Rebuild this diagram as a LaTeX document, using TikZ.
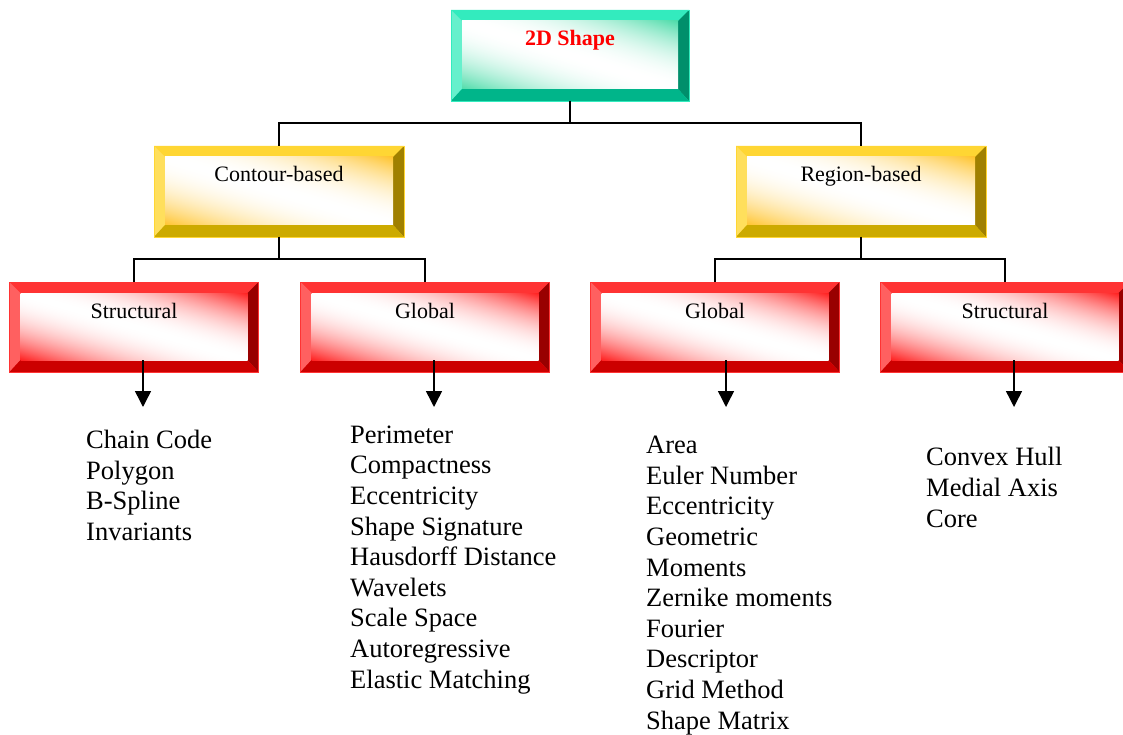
\documentclass[tikz,border=0pt]{standalone}
\usepackage{fontspec}
\setmainfont{Liberation Serif}
\usetikzlibrary{arrows.meta}
\definecolor{tealtop}{HTML}{33EBBE}
\definecolor{tealleft}{HTML}{66F0CC}
\definecolor{tealright}{HTML}{008F6B}
\definecolor{tealbot}{HTML}{00B58A}
\definecolor{tealface}{HTML}{4FDCAA}
\definecolor{goldtop}{HTML}{FFD633}
\definecolor{goldleft}{HTML}{FFDF5C}
\definecolor{goldright}{HTML}{A08000}
\definecolor{goldbot}{HTML}{CCAA00}
\definecolor{goldface}{HTML}{FFC42E}
\definecolor{redtop}{HTML}{FF3333}
\definecolor{redleft}{HTML}{FF6060}
\definecolor{redright}{HTML}{990000}
\definecolor{redbot}{HTML}{CC0000}
\definecolor{redface}{HTML}{FF2020}
\colorlet{facecol}{red}
% white along the diagonal, colour in the upper right and lower left corners
\pgfdeclarefunctionalshading[facecol]{bevelface}{\pgfpoint{0bp}{0bp}}{\pgfpoint{100bp}{100bp}}
  {\pgfshadecolortorgb{facecol}{\fcol}}
  {add 100 sub abs 50 div dup mul
   dup 1 \fcolred\space sub mul 1 exch sub exch
   dup 1 \fcolgreen\space sub mul 1 exch sub exch
   1 \fcolblue\space sub mul 1 exch sub}
\tikzset{
  bevel/.style n args={5}{rectangle, inner sep=0pt, outer sep=0pt,
    draw=#1, line width=0.6pt, fill=#1,
    path picture={
      \coordinate (pnw) at (path picture bounding box.north west);
      \coordinate (pne) at (path picture bounding box.north east);
      \coordinate (psw) at (path picture bounding box.south west);
      \coordinate (pse) at (path picture bounding box.south east);
      \coordinate (qnw) at ([shift={(11pt,-11pt)}]pnw);
      \coordinate (qne) at ([shift={(-11pt,-11pt)}]pne);
      \coordinate (qsw) at ([shift={(11pt,12pt)}]psw);
      \coordinate (qse) at ([shift={(-11pt,12pt)}]pse);
      \fill[#1] (pnw) -- (pne) -- (qne) -- (qnw) -- cycle;
      \fill[#2] (pnw) -- (qnw) -- (qsw) -- (psw) -- cycle;
      \fill[#3] (pne) -- (pse) -- (qse) -- (qne) -- cycle;
      \fill[#4] (psw) -- (qsw) -- (qse) -- (pse) -- cycle;
      \colorlet{facecol}{#5}
      \shade[shading=bevelface] (qnw) rectangle (qse);
    }},
  tealbox/.style={bevel={tealtop}{tealleft}{tealright}{tealbot}{tealface},
    minimum width=238pt, minimum height=91pt},
  goldbox/.style={bevel={goldtop}{goldleft}{goldright}{goldbot}{goldface},
    minimum width=250pt, minimum height=91pt},
  redbox/.style={bevel={redtop}{redleft}{redright}{redbot}{redface},
    minimum width=249pt, minimum height=90pt},
  boxtext/.style={font=\fontsize{22}{26}\selectfont, anchor=base, yshift=-36pt},
  title/.style={label={[boxtext]north:#1}},
  % anchor sits on the last line
  listtext/.style={font=\fontsize{26.5}{30.6}\selectfont, align=left,
    anchor=base west, inner sep=0pt},
  link/.style={line width=1.5pt},
  down/.style={line width=1.5pt, -{Triangle[width=16pt,length=16pt]}}
}
\begin{document}
\begin{tikzpicture}[x=1pt,y=-1pt]
  \useasboundingbox (0,0) rectangle (1123,735);
  \node[tealbox, label={[boxtext, font=\fontsize{22}{26}\selectfont\bfseries, text=red]north:2D Shape}] (shape) at (570,55.5) {};
  \node[goldbox, title=Contour-based] (cb) at (279,191.5) {};
  \node[goldbox, title=Region-based] (rb) at (861,191.5) {};
  \node[redbox, title=Structural] (cs) at (134,327) {};
  \node[redbox, title=Global] (cg) at (425,327) {};
  \node[redbox, title=Global] (rg) at (715,327) {};
  \node[redbox, title=Structural] (rs) at (1005,327) {};
  \draw[link] (shape.south) -- ++(0,22) -| (cb.north);
  \draw[link] (shape.south) -- ++(0,22) -| (rb.north);
  \draw[link] (cb.south) -- ++(0,22) -| (cs.north);
  \draw[link] (cb.south) -- ++(0,22) -| (cg.north);
  \draw[link] (rb.south) -- ++(0,22) -| (rg.north);
  \draw[link] (rb.south) -- ++(0,22) -| (rs.north);
  \coordinate (e1) at (143,407);
  \coordinate (e2) at (434,407);
  \coordinate (e3) at (726,407);
  \coordinate (e4) at (1014,407);
  \draw[down] (cs.south -| e1) ++(0,-12) -- (e1);
  \draw[down] (cg.south -| e2) ++(0,-12) -- (e2);
  \draw[down] (rg.south -| e3) ++(0,-12) -- (e3);
  \draw[down] (rs.south -| e4) ++(0,-12) -- (e4);
  \node[listtext] (cl) at (86,540.5) {Chain Code\\Polygon\\B-Spline\\Invariants};
  \node[listtext] (gl) at (350,688) {Perimeter\\Compactness\\Eccentricity\\Shape Signature\\Hausdorff Distance\\Wavelets\\Scale Space\\Autoregressive\\Elastic Matching};
  \node[listtext] (al) at (646,729) {Area\\Euler Number\\Eccentricity\\Geometric\\Moments\\Zernike moments\\Fourier\\Descriptor\\Grid Method\\Shape Matrix};
  \node[listtext] (sl) at (926,527) {Convex Hull\\Medial Axis\\Core};
\end{tikzpicture}
\end{document}
